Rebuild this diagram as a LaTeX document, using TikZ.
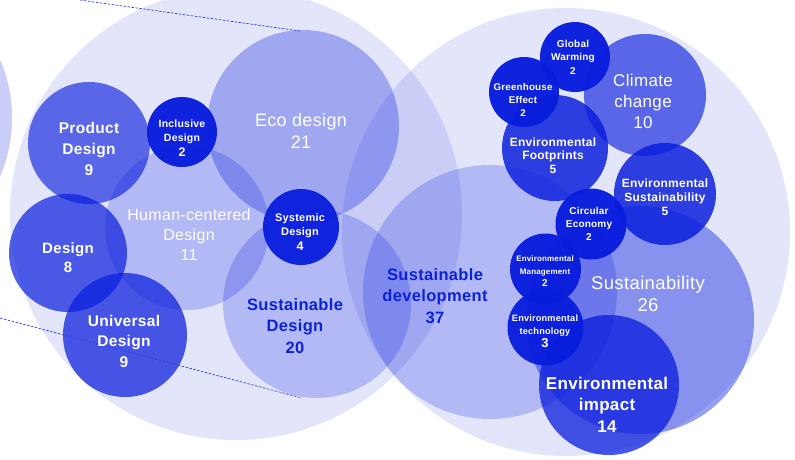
\documentclass[tikz,border=0pt]{standalone}
\usepackage{fontspec}
\setmainfont{Liberation Sans}[LetterSpace=2]
\definecolor{bbase}{RGB}{8,28,220}
\definecolor{txtblue}{RGB}{12,34,216}
\tikzset{
  bub/.style={fill=bbase, fill opacity=#1},
  lbl/.style={align=center, text=white, inner sep=0pt},
  lblb/.style={align=center, text=txtblue, inner sep=0pt},
  zline/.style={draw=bbase!85, line width=0.7pt, dash pattern=on 2.5pt off 1.5pt},
}
\newcommand{\fs}[2]{\fontsize{#1}{#2}\selectfont}
\begin{document}
\begin{tikzpicture}[x=1pt,y=-1pt]
\useasboundingbox (0,0) rectangle (795,459);
% background big circles
\path[bub=0.22] (-137,118) circle[radius=149pt];
\path[bub=0.113] (236,214) circle[radius=226pt];
\path[bub=0.113] (566,232) circle[radius=224pt];
% medium light circles
\path[bub=0.31] (303,126) circle[radius=96pt];
\path[bub=0.22] (187,228) circle[radius=82pt];
\path[bub=0.22] (317,304) circle[radius=94pt];
\path[bub=0.22] (490,292) circle[radius=127pt];
\path[bub=0.42] (640,320) circle[radius=114pt];
% mid-dark circles
\path[bub=0.63] (89,143) circle[radius=61pt];
\path[bub=0.70] (68,253) circle[radius=59pt];
\path[bub=0.72] (125,335) circle[radius=62pt];
\path[bub=0.63] (645,95) circle[radius=61pt];
\path[bub=0.83] (555,148) circle[radius=53pt];
\path[bub=0.83] (665,194) circle[radius=51pt];
\path[bub=0.75] (609,385) circle[radius=70pt];
% small dark circles
\path[bub=0.97] (182,132) circle[radius=35pt];
\path[bub=0.95] (301,227) circle[radius=38pt];
\path[bub=0.97] (575,57) circle[radius=35pt];
\path[bub=0.97] (524,92) circle[radius=35pt];
\path[bub=0.97] (591,224) circle[radius=35.5pt];
\path[bub=0.97] (545.5,269) circle[radius=35.5pt];
\path[bub=0.95] (545.5,327.5) circle[radius=38pt];
% zoom lines
\coordinate (z1a) at (80,0);
\coordinate (z1b) at (300,31);
\coordinate (z2a) at (0,318);
\coordinate (z2b) at (302,398);
\draw[zline] (z1a) -- (z1b);
\draw[zline] (z2a) -- (z2b);
% labels
\node[lbl, font=\fs{15.5}{21}\bfseries] (product) at (89,149) {Product\\Design\\9};
\node[lbl, font=\fs{10.5}{14.5}\bfseries] (inclusive) at (182,138) {Inclusive\\Design\\{\fs{12.5}{14.5}2}};
\node[lbl, font=\fs{18}{22}] (eco) at (301,131) {Eco design\\21};
\node[lbl, font=\fs{16}{20}] (human) at (189,235) {Human-centered\\Design\\11};
\node[lbl, font=\fs{15}{19}\bfseries] (design) at (68,258) {Design\\8};
\node[lbl, font=\fs{11}{14.5}\bfseries] (systemic) at (300,232) {Systemic\\Design\\{\fs{12.5}{14.5}4}};
\node[lbl, font=\fs{15.5}{20.5}\bfseries] (universal) at (124,341) {Universal\\Design\\9};
\node[lblb, font=\fs{16.5}{21.5}\bfseries] (sustdesign) at (295,326) {Sustainable\\Design\\20};
\node[lblb, font=\fs{16.5}{21.5}\bfseries] (sustdev) at (435,296) {Sustainable\\development\\37};
\node[lbl, font=\fs{10}{13.5}\bfseries] (global) at (573,57) {Global\\Warming\\2};
\node[lbl, font=\fs{9.8}{13}\bfseries] (greenhouse) at (523,100) {Greenhouse\\Effect\\2};
\node[lbl, font=\fs{17}{21}] (climate) at (643,101) {Climate\\change\\10};
\node[lbl, font=\fs{12}{13.5}\bfseries] (footprints) at (553,155.5) {Environmental\\Footprints\\5};
\node[lbl, font=\fs{12}{14}\bfseries] (envsust) at (665,197) {Environmental\\Sustainability\\5};
\node[lbl, font=\fs{10}{13}\bfseries] (circular) at (589,224) {Circular\\Economy\\2};
\node[lbl, font=\fs{8}{12.5}\bfseries] (envman) at (545,271.5) {Environmental\\Management\\{\fs{10}{12.5}2}};
\node[lbl, font=\fs{9.2}{13}\bfseries] (envtech) at (545,331) {Environmental\\technology\\{\fs{13}{13}3}};
\node[lbl, font=\fs{18.5}{22}] (sustainability) at (648,294) {Sustainability\\26};
\node[lbl, font=\fs{17}{21.5}\bfseries] (envimpact) at (607,404.5) {Environmental\\impact\\14};
\end{tikzpicture}
\end{document}
